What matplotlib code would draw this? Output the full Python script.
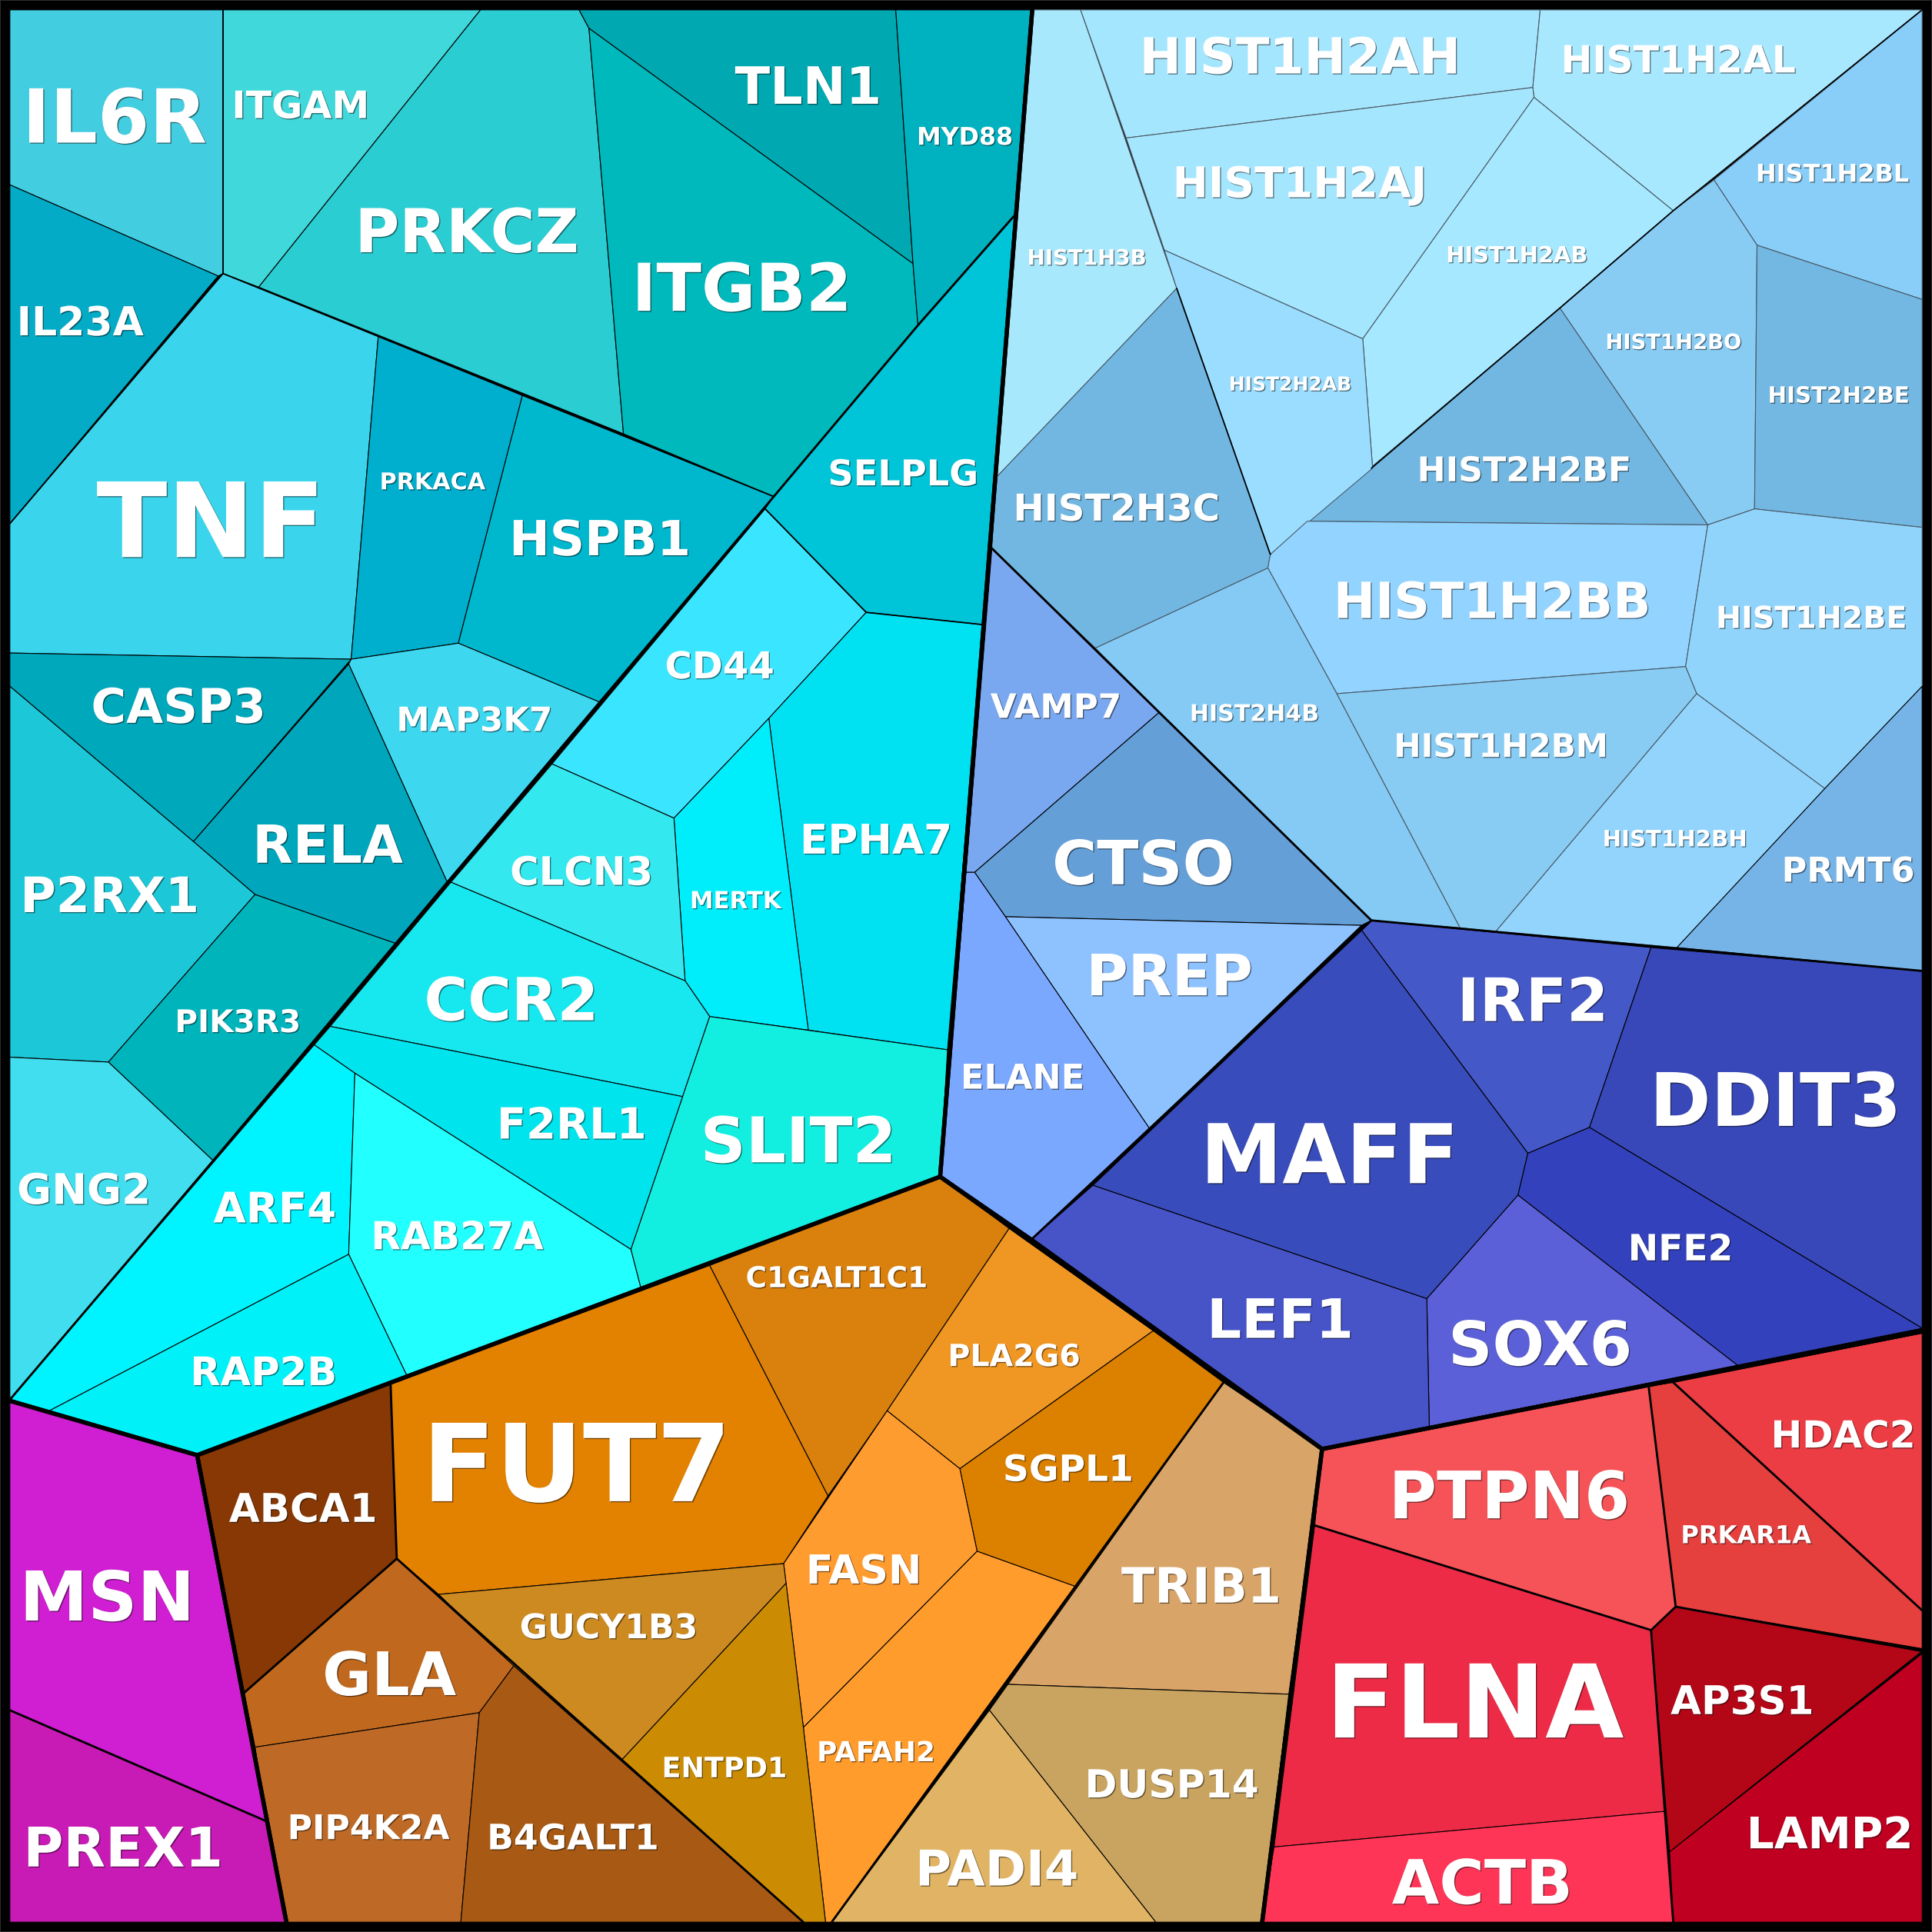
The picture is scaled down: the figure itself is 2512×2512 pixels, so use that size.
import matplotlib
matplotlib.use('Agg')
import matplotlib.pyplot as plt
import matplotlib.patheffects as pe
from matplotlib.patches import Polygon, Rectangle
from matplotlib.textpath import TextPath
from matplotlib.font_manager import FontProperties

# genes of the voronoi treemap, outline of each cell
genes = ['IL6R', 'IL23A', 'ITGAM', 'PRKCZ', 'TLN1', 'ITGB2', 'MYD88', 'SELPLG', 'TNF', 'PRKACA', 'HSPB1', 'MAP3K7',
         'CASP3', 'RELA', 'P2RX1', 'PIK3R3', 'GNG2', 'CD44', 'EPHA7', 'MERTK', 'CLCN3', 'CCR2', 'SLIT2', 'F2RL1',
         'ARF4', 'RAB27A', 'RAP2B',
         'HIST1H3B', 'HIST1H2AH', 'HIST1H2AL', 'HIST1H2AJ', 'HIST1H2AB', 'HIST1H2BL', 'HIST1H2BO', 'HIST2H2BE',
         'HIST2H2BF', 'HIST2H2AB', 'HIST2H3C', 'HIST1H2BB', 'HIST1H2BE', 'HIST2H4B', 'HIST1H2BM', 'HIST1H2BH', 'PRMT6',
         'VAMP7', 'CTSO', 'PREP', 'ELANE',
         'IRF2', 'DDIT3', 'MAFF', 'NFE2', 'SOX6', 'LEF1',
         'PTPN6', 'HDAC2', 'PRKAR1A', 'FLNA', 'ACTB', 'AP3S1', 'LAMP2',
         'ABCA1', 'FUT7', 'C1GALT1C1', 'PLA2G6', 'SGPL1', 'FASN', 'PAFAH2', 'GUCY1B3', 'ENTPD1', 'GLA', 'PIP4K2A', 'B4GALT1',
         'MSN', 'PREX1', 'TRIB1', 'DUSP14', 'PADI4']

cells = [
    [(8,8),(181,8),(181,222),(177,224),(8,150)],
    [(8,150),(177,224),(8,425)],
    [(181,8),(390,8),(210,233),(181,222)],
    [(390,8),(470,8),(478,23),(506,352),(210,233)],
    [(470,8),(727,8),(741,214),(478,23)],
    [(478,23),(741,214),(745,264),(628,403),(506,352)],
    [(727,8),(838,8),(825,173),(745,264),(741,214)],
    [(825,173),(798,507),(703,497),(621,413),(628,403),(745,264)],
    [(181,222),(307,273),(285,535),(8,530),(8,425)],
    [(307,273),(424,321),(372,522),(285,535)],
    [(424,321),(628,403),(487,570),(372,522)],
    [(283,539),(285,535),(372,522),(487,570),(363,716)],
    [(8,530),(285,535),(157,683),(8,557)],
    [(283,539),(363,716),(322,766),(207,726),(157,683)],
    [(8,557),(157,683),(207,726),(88,862),(8,858)],
    [(207,726),(322,766),(173,942),(88,862)],
    [(8,858),(88,862),(173,942),(8,1136)],
    [(621,413),(703,497),(624,583),(547,664),(448,620)],
    [(703,497),(798,507),(769,852),(656,836),(624,583)],
    [(624,583),(656,836),(576,825),(556,796),(547,664)],
    [(448,620),(547,664),(556,796),(366,716)],
    [(366,716),(556,796),(576,825),(554,890),(268,833)],
    [(576,825),(769,852),(763,955),(520,1045),(512,1014),(554,890)],
    [(268,833),(554,890),(512,1014),(288,871),(255,848)],
    [(255,848),(288,871),(283,1018),(40,1145),(8,1136)],
    [(288,871),(512,1014),(520,1045),(330,1116),(283,1018)],
    [(283,1018),(330,1116),(160,1181),(40,1145)],
    [(838,8),(877,8),(955,234),(808,388)],
    [(877,8),(1250,8),(1244,71),(914,112)],
    [(1250,8),(1560,8),(1358,171),(1245,79),(1244,71)],
    [(914,112),(1244,71),(1245,79),(1106,275),(945,203)],
    [(1245,79),(1358,171),(1114,380),(1106,275)],
    [(1560,8),(1560,243),(1426,199),(1391,146)],
    [(1391,146),(1426,199),(1424,413),(1386,426),(1266,250),(1358,171)],
    [(1426,199),(1560,243),(1560,428),(1424,413)],
    [(1266,250),(1386,426),(1061,423)],
    [(945,203),(1106,275),(1114,380),(1031,450),(955,234)],
    [(955,234),(1031,450),(1029,461),(889,526),(805,445),(808,388)],
    [(1031,450),(1061,423),(1386,426),(1368,541),(1085,563),(1029,461)],
    [(1386,426),(1424,413),(1560,428),(1560,557),(1481,640),(1377,563),(1368,541)],
    [(889,526),(1029,461),(1085,563),(1185,753),(1113,747),(941,578)],
    [(1085,563),(1368,541),(1377,563),(1214,756),(1185,753)],
    [(1377,563),(1481,640),(1361,769),(1214,756)],
    [(1560,557),(1560,788),(1361,769),(1481,640)],
    [(805,445),(941,578),(791,708),(784,708)],
    [(941,578),(1113,747),(1105,751),(816,744),(791,708)],
    [(816,744),(1105,751),(933,916)],
    [(784,708),(791,708),(816,744),(933,916),(837,1006),(763,955)],
    [(1113,747),(1340,769),(1290,915),(1240,936),(1105,755)],
    [(1340,769),(1560,788),(1560,1078),(1290,915)],
    [(1105,755),(1240,936),(1232,970),(1158,1054),(887,962)],
    [(1290,915),(1560,1078),(1410,1108),(1232,970),(1240,936)],
    [(1232,970),(1410,1108),(1160,1158),(1158,1054)],
    [(887,962),(1158,1054),(1160,1158),(1073,1176),(837,1006)],
    [(1073,1176),(1338,1125),(1360,1304),(1340,1323),(1067,1238)],
    [(1358,1122),(1560,1082),(1560,1307)],
    [(1338,1125),(1358,1122),(1560,1307),(1560,1338),(1360,1304)],
    [(1067,1238),(1340,1323),(1352,1470),(1034,1499)],
    [(1034,1499),(1352,1470),(1358,1560),(1024,1560)],
    [(1360,1304),(1560,1340),(1355,1503),(1340,1323)],
    [(1560,1342),(1560,1560),(1358,1560),(1355,1503)],
    [(160,1181),(317,1123),(322,1265),(198,1374)],
    [(317,1123),(576,1027),(672,1214),(636,1269),(356,1294),(322,1265)],
    [(576,1027),(763,955),(819,997),(720,1145),(672,1214)],
    [(819,997),(936,1080),(779,1192),(720,1145)],
    [(936,1080),(993,1122),(874,1288),(793,1259),(779,1192)],
    [(720,1145),(779,1192),(793,1259),(652,1402),(636,1269)],
    [(793,1259),(874,1288),(675,1560),(670,1560),(652,1402)],
    [(356,1294),(636,1269),(638,1285),(505,1428),(417,1352)],
    [(638,1285),(652,1402),(670,1560),(652,1560),(505,1428)],
    [(322,1265),(417,1352),(389,1390),(207,1418),(198,1374)],
    [(207,1418),(389,1390),(374,1560),(233,1560),(216,1478)],
    [(417,1352),(652,1560),(374,1560),(389,1390)],
    [(8,1136),(160,1181),(216,1478),(8,1388)],
    [(8,1388),(216,1478),(233,1560),(8,1560)],
    [(993,1122),(1073,1176),(1046,1375),(818,1367)],
    [(818,1367),(1046,1375),(1024,1560),(938,1560),(803,1388)],
    [(803,1388),(938,1560),(675,1560)],
]

colours = ['#43CDE0', '#03ABC6', '#40D8DA', '#2ACDD2', '#00A8B1', '#00B9BC', '#00B2C0', '#00C4D8', '#3AD5EC', '#00AECD', '#00B8CE', '#3DD8F0',
           '#00A8BC', '#00A6BC', '#1CC8D8', '#00B4BC', '#40DEEE', '#3AE6FF', '#00E2F2', '#00EEFC', '#33E8EE', '#17E8F0', '#12EEE0', '#00E4EE',
           '#00F4FF', '#22FFFF', '#00F2F8',
           '#A8E8FC', '#A5E6FF', '#A8E8FF', '#A5E6FF', '#A6E8FF', '#88CEF8', '#88CCF4', '#72B8E2',
           '#72B7E2', '#9ADDFF', '#72B7E2', '#92D3FF', '#90D4FC', '#84CAF4', '#88CCF4', '#92D4FC', '#76B4E8',
           '#7AA8F0', '#649FD8', '#8EC2FF', '#7AA8FF',
           '#4558C8', '#3848B8', '#394CBC', '#3342BC', '#5C60D8', '#4654C8',
           '#F55358', '#EC3C44', '#E5403E', '#EE2B46', '#FF3558', '#B30717', '#C00020',
           '#873804', '#E38100', '#DA800C', '#F09622', '#DC8000', '#FF9C30', '#FF9C2C', '#CD8A20', '#CB8C04', '#C0681E', '#BE6A26', '#A85A14',
           '#D01ED2', '#C81AB4', '#D8A468', '#C8A460', '#E0B464']

# label centre and label width
label_x = [93, 65, 244, 379, 656, 602, 783, 733, 171, 351, 487, 385,
           145, 266, 89, 193, 68, 584, 711, 597, 472, 415, 648, 464,
           223, 371, 214,
           882, 1055, 1362, 1055, 1231, 1487, 1358, 1492,
           1237, 1047, 906, 1211, 1470, 1018, 1218, 1359, 1500,
           857, 928, 949, 830,
           1244, 1441, 1079, 1364, 1250, 1039,
           1225, 1496, 1417, 1197, 1203, 1414, 1485,
           246, 468, 679, 823, 867, 701, 711, 494, 588, 316, 299, 465,
           87, 100, 975, 951, 809]
label_y = [93, 260, 84, 186, 68, 232, 110, 383, 420, 390, 436, 583,
           572, 684, 725, 828, 964, 539, 680, 730, 706, 810, 924, 911,
           979, 1002, 1112,
           208, 44, 47, 147, 206, 140, 277, 320,
           380, 311, 411, 486, 500, 578, 604, 680, 705,
           572, 699, 790, 873,
           810, 891, 935, 1012, 1089, 1069,
           1212, 1163, 1245, 1379, 1526, 1379, 1487,
           1223, 1185, 1036, 1099, 1191, 1273, 1421, 1319, 1434, 1357, 1482, 1490,
           1294, 1498, 1286, 1447, 1515]
label_w = [143, 100, 106, 175, 116, 169, 75, 118, 178, 84, 141, 122,
           137, 118, 139, 98, 104, 86, 118, 73, 112, 135, 151, 116,
           98, 137, 114,
           94, 253, 187, 200, 112, 122, 108, 112,
           169, 97, 163, 251, 151, 102, 169, 114, 104,
           104, 143, 129, 96,
           114, 194, 198, 80, 143, 112,
           188, 112, 104, 234, 143, 114, 129,
           118, 236, 145, 104, 102, 88, 92, 141, 98, 106, 129, 135,
           132, 155, 127, 137, 127]

# group borders, heavier the higher up the hierarchy
top_groups = [
    [(8,8),(838,8),(763,955),(160,1181),(8,1136)],
    [(838,8),(1560,8),(1560,1080),(1073,1176),(837,1006),(763,955)],
    [(1073,1176),(1560,1080),(1560,1560),(1024,1560)],
    [(160,1181),(763,955),(1073,1176),(1024,1560),(233,1560)],
    [(8,1136),(160,1181),(233,1560),(8,1560)],
]
mid_groups = [
    [(838,8),(825,173),(745,264),(628,403),(363,716),(173,942),(8,1136)],
    [(805,445),(1113,747),(837,1006)],
    [(1113,747),(1560,788)],
    [(993,1122),(675,1560)],
    [(317,1123),(322,1265),(652,1560)],
    [(322,1265),(198,1374)],
    [(8,1388),(216,1478)],
    [(1067,1238),(1340,1323),(1360,1304),(1338,1125)],
    [(1340,1323),(1358,1560)],
    [(1360,1304),(1560,1340)],
    [(1358,1122),(1560,1307)],
]
low_groups = [
    [(8,425),(181,222),(628,403)],
    [(181,8),(181,222)],
    [(621,413),(703,497),(798,507)],
    [(955,234),(1031,450)],
    [(1113,380),(1266,250),(1358,171),(1560,8)],
]


def push_out(outline):
    # border vertices go past the clip box so a heavy line does not eat into the map
    moved = []
    for x, y in outline:
        x = 5 if x <= 8 else 1563 if x >= 1560 else x
        y = 5 if y <= 8 else 1563 if y >= 1560 else y
        moved.append((x, y))
    return moved


fig = plt.figure(figsize=(8, 8), dpi=314, facecolor='black')
ax = fig.add_axes([0, 0, 1, 1])
ax.set_xlim(0, 1568)
ax.set_ylim(1568, 0)
ax.axis('off')

# everything is clipped to the map area, the black frame is just the figure background
map_area = Rectangle((7.5, 7.5), 1553, 1553, transform=ax.transData)

soft_cols = ('#A8E8FC', '#A5E6FF', '#A8E8FF', '#A6E8FF', '#88CEF8', '#88CCF4', '#72B8E2', '#72B7E2',
             '#9ADDFF', '#92D3FF', '#90D4FC', '#84CAF4', '#92D4FC')
for outline, col in zip(cells, colours):
    # light blue cells carry a softer border
    edge = '#4a5a66' if col in soft_cols else 'black'
    p = Polygon(outline, closed=True, facecolor=col, edgecolor=edge, linewidth=0.25, joinstyle='round')
    ax.add_patch(p)
    p.set_clip_path(map_area)

for outline in low_groups:
    ln, = ax.plot(*zip(*outline), color='black', lw=0.4, solid_capstyle='round')
    ln.set_clip_path(map_area)
for outline in mid_groups:
    ln, = ax.plot(*zip(*outline), color='black', lw=0.65, solid_capstyle='round')
    ln.set_clip_path(map_area)
for outline in top_groups:
    p = Polygon(push_out(outline), closed=True, fill=False, edgecolor='black', linewidth=1.25, joinstyle='round')
    ax.add_patch(p)
    p.set_clip_path(map_area)

# faint grey edge of the image
ax.add_patch(Rectangle((0, 0), 1568, 1568, fill=False, edgecolor='#333333', linewidth=0.4))

bold = FontProperties(family='DejaVu Sans', weight='bold')
pt_per_unit = 8 * 72 / 1568
shadow = [pe.SimplePatchShadow(offset=(0.3, -0.3), shadow_rgbFace='black', alpha=0.5), pe.Normal()]
for name, x, y, w in zip(genes, label_x, label_y, label_w):
    unit_w = TextPath((0, 0), name, size=1, prop=bold).get_extents().width
    size = w * pt_per_unit / unit_w
    ax.text(x, y, name, color='white', fontproperties=bold, fontsize=size, ha='center', va='center_baseline',
            path_effects=shadow)

fig.savefig('out.png', dpi=314, facecolor='black')
